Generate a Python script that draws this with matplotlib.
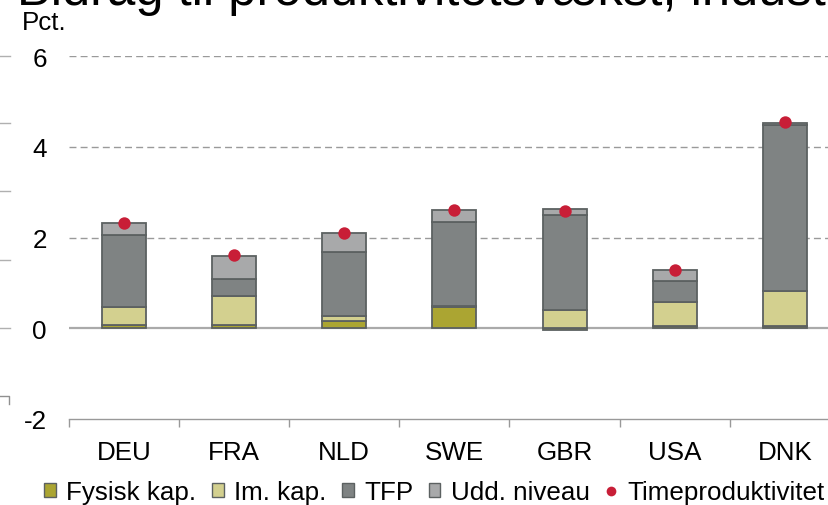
import numpy as np
import matplotlib
matplotlib.use("Agg")
import matplotlib.pyplot as plt
from matplotlib.patches import Patch
from matplotlib.lines import Line2D

plt.rcParams['font.family'] = ['Liberation Sans', 'DejaVu Sans']

countries = ["DEU", "FRA", "NLD", "SWE", "GBR", "USA", "DNK"]
fysisk = [0.07, 0.07, 0.16, 0.46, -0.04, 0.05, 0.05]
im_kap = [0.40, 0.65, 0.10, 0.02, 0.41, 0.52, 0.76]
tfp = [1.58, 0.36, 1.41, 1.86, 2.09, 0.47, 3.66]
udd = [0.26, 0.51, 0.42, 0.26, 0.12, 0.24, 0.06]
timeprod = [2.31, 1.61, 2.09, 2.60, 2.58, 1.28, 4.54]

series = [("Fysisk kap.", fysisk, "#aba532"),
          ("Im. kap.", im_kap, "#d3d08f"),
          ("TFP", tfp, "#7f8383"),
          ("Udd. niveau", udd, "#a8a9aa")]
dot_color = "#c81e37"
edge = "#5c6161"
fs = 18.7

W, H = 829, 506
fig = plt.figure(figsize=(W / 100, H / 100), dpi=100)
ax = fig.add_axes([68.9 / W, 86 / H, 771 / W, 363 / H])

x = np.arange(len(countries))
pos_base = np.zeros(len(countries))
neg_base = np.zeros(len(countries))
for name, vals, col in series:
    vals = np.array(vals)
    bottoms = np.where(vals >= 0, pos_base, neg_base)
    ax.bar(x, vals, 0.4, bottom=bottoms, color=col, edgecolor=edge, linewidth=1.3, zorder=3)
    pos_base = pos_base + np.where(vals >= 0, vals, 0)
    neg_base = neg_base + np.where(vals < 0, vals, 0)

ax.scatter(x, timeprod, s=80, color=dot_color, zorder=5, linewidths=0)

ax.set_xlim(-0.5, 6.5)
ax.set_ylim(-2, 6)
ax.set_yticks([-2, 0, 2, 4, 6])
ax.set_yticklabels(["-2", "0", "2", "4", "6"])
for yv in [2, 4, 6]:
    ax.axhline(yv, color="#9a9a9a", linewidth=1.0, linestyle=(0, (5, 3)), zorder=1)
ax.axhline(0, color="#aaaaaa", linewidth=1.6, zorder=2)

ax.set_xticks(x)
ax.set_xticklabels(countries)
ax.set_xticks(np.arange(-0.5, 7.0, 1.0), minor=True)
ax.tick_params(axis="x", which="major", length=0, pad=15, labelsize=fs)
ax.tick_params(axis="x", which="minor", length=6, width=1.0, color="#999999", direction="out")
ax.tick_params(axis="y", length=0, pad=16, labelsize=fs)
for s in ["top", "right", "left"]:
    ax.spines[s].set_visible(False)
ax.spines["bottom"].set_color("#999999")
ax.spines["bottom"].set_linewidth(1.0)

fig.text(17 / W, 1 - 5 / H, "Bidrag til produktivitetsvækst, industri", fontsize=36.5,
         va="baseline", ha="left")
fig.text(22 / W, 1 - 30 / H, "Pct.", fontsize=fs, va="baseline", ha="left")

# remnants of the neighbouring chart at the left edge
for yp in [57, 124, 192, 261, 329]:
    fig.add_artist(Line2D([0, 10 / W], [1 - yp / H, 1 - yp / H], color="#b0b0b0", linewidth=1.0))
fig.add_artist(Line2D([0, 9 / W, 9 / W], [1 - 397 / H, 1 - 397 / H, 1 - 405 / H],
                      color="#909090", linewidth=1.0))

handles = [Patch(facecolor=col, edgecolor=edge, linewidth=1.0, label=name) for name, _, col in series]
handles.append(Line2D([], [], marker="o", linestyle="", markersize=7, color=dot_color,
                      markeredgewidth=0, label="Timeproduktivitet"))
fig.legend(handles=handles, loc="center", bbox_to_anchor=(0.524, 1 - 493 / H), ncol=5,
           frameon=False, fontsize=fs, handlelength=0.45, handleheight=0.45,
           handletextpad=0.4, columnspacing=0.6, borderpad=0)

fig.savefig("out.png", dpi=100)
